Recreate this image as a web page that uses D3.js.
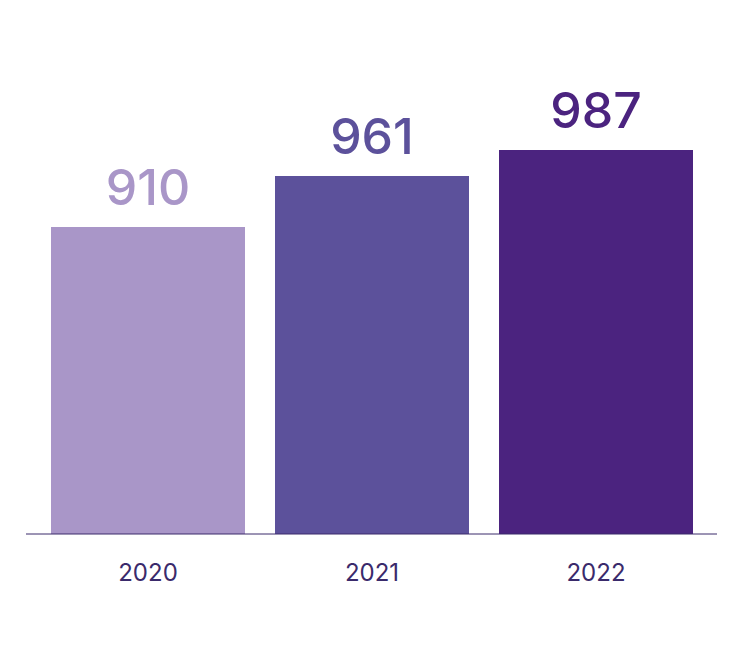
<!DOCTYPE html>
<html><head><meta charset="utf-8">
<script src="https://cdn.jsdelivr.net/npm/d3@7"></script>
<style>body{margin:0;background:#fff}</style></head>
<body><svg id="c" width="750" height="660"></svg>
<script>
const categories = ["2020","2021","2022"];
const values = [910, 961, 987];
const colors = ["#a996c8","#5c519b","#4b237f"];
const svg = d3.select("#c");
const x = d3.scaleBand().domain(categories).range([36,708]).paddingInner(30/224).paddingOuter(15/224);
const y = d3.scaleLinear().domain([603,1000]).range([534,137]);
svg.selectAll("rect.bar").data(values).enter().append("rect")
  .attr("x",(d,i)=>x(categories[i])).attr("width",x.bandwidth())
  .attr("y",d=>y(d)).attr("height",d=>y(603)-y(d)).attr("fill",(d,i)=>colors[i]);
svg.selectAll("text.val").data(values).enter().append("text")
  .attr("x",(d,i)=>x(categories[i])+x.bandwidth()/2).attr("y",d=>y(d)-22)
  .attr("text-anchor","middle").attr("font-family","Inter, sans-serif").attr("font-size",50).attr("font-weight",500)
  .attr("fill",(d,i)=>colors[i]).text(d=>d);
const ax = svg.append("g").attr("transform","translate(0,534)")
  .call(d3.axisBottom(x).tickSize(0).tickPadding(30));
ax.select(".domain").attr("d","M26,0H717").attr("stroke","#3a2a6b");
ax.selectAll("text").attr("font-family","Inter, sans-serif").attr("font-size",24).attr("fill","#3a2a6b");
</script></body></html>
